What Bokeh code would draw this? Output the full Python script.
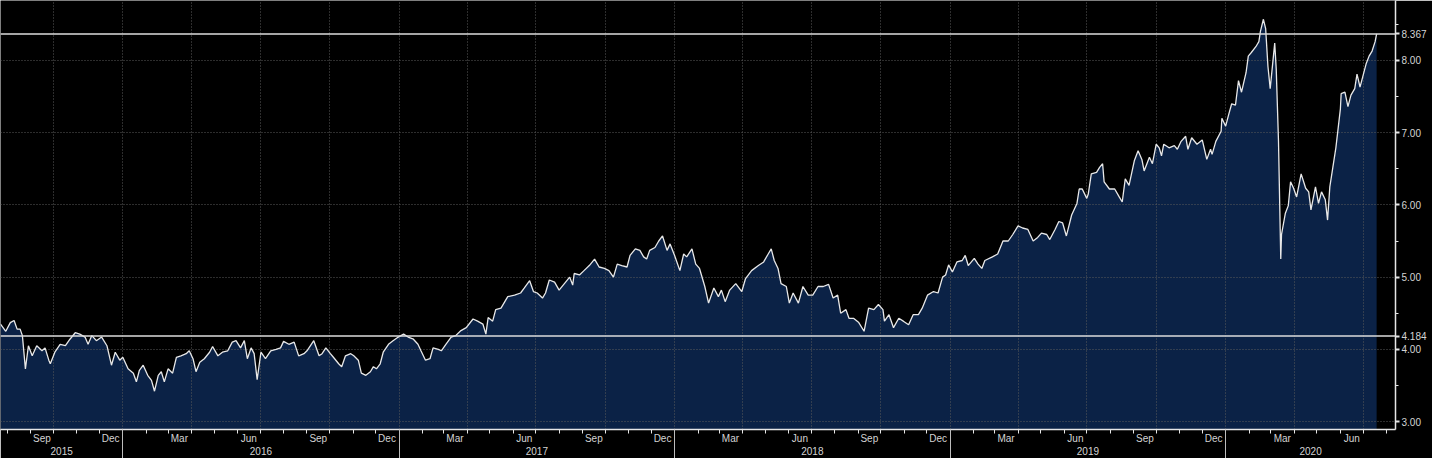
import pandas as pd
from bokeh.plotting import figure
from bokeh.models import (Range1d, FixedTicker, CustomJSTickFormatter, DatetimeAxis,
                          Span, ColumnDataSource)
from bokeh.embed import file_html
from bokeh.resources import INLINE

# ---------------- data ----------------
start_date = "2015-07-23"
end_date = "2020-08-13"
day_offset = [
    0, 7, 13, 18, 22, 26, 29, 33, 37, 42, 48, 55, 59, 64, 66, 72, 79, 86, 92, 99,
    105, 112, 116, 121, 127, 134, 141, 147, 152, 158, 162, 169, 176, 180, 184, 189, 195, 200, 204, 209,
    213, 217, 222, 228, 233, 239, 246, 250, 255, 259, 264, 270, 277, 281, 288, 294, 301, 307, 312, 318,
    323, 327, 332, 336, 340, 345, 351, 358, 365, 371, 375, 382, 389, 395, 402, 406, 415, 422, 426, 431,
    437, 441, 448, 452, 457, 464, 468, 474, 478, 484, 490, 494, 498, 503, 507, 514, 520, 527, 534, 540,
    547, 553, 557, 563, 569, 573, 580, 584, 590, 597, 603, 610, 617, 626, 632, 639, 643, 646, 652, 656,
    663, 672, 681, 689, 694, 701, 706, 711, 718, 722, 727, 734, 740, 747, 754, 758, 760, 767, 773, 780,
    787, 793, 800, 806, 812, 817, 823, 830, 834, 841, 847, 852, 856, 860, 867, 872, 877, 883, 887, 893,
    900, 905, 909, 916, 921, 926, 933, 938, 945, 951, 955, 960, 966, 974, 982, 987, 995, 1004, 1011, 1017,
    1021, 1025, 1030, 1034, 1041, 1045, 1050, 1057, 1063, 1070, 1076, 1083, 1090, 1097, 1103, 1109, 1113, 1120, 1124, 1130,
    1137, 1144, 1150, 1157, 1163, 1169, 1171, 1177, 1183, 1190, 1196, 1203, 1209, 1216, 1221, 1228, 1236, 1242, 1248, 1252,
    1256, 1261, 1267, 1274, 1278, 1282, 1290, 1295, 1300, 1304, 1314, 1321, 1328, 1335, 1341, 1348, 1354, 1361, 1368, 1374,
    1379, 1386, 1390, 1397, 1402, 1407, 1412, 1419, 1426, 1429, 1433, 1439, 1441, 1445, 1452, 1456, 1460, 1462, 1469, 1476,
    1482, 1486, 1490, 1495, 1502, 1507, 1512, 1515, 1522, 1526, 1531, 1535, 1538, 1541, 1548, 1555, 1559, 1564, 1570, 1573,
    1578, 1585, 1592, 1598, 1603, 1605, 1610, 1617, 1618, 1623, 1627, 1631, 1636, 1640, 1644, 1650, 1653, 1657, 1663, 1667,
    1669, 1673, 1676, 1679, 1682, 1688, 1690, 1693, 1696, 1697, 1702, 1706, 1709, 1713, 1717, 1723, 1729, 1733, 1736, 1742,
    1746, 1750, 1755, 1758, 1761, 1765, 1769, 1775, 1776, 1781, 1785, 1789, 1794, 1797, 1801, 1805, 1809, 1813, 1817, 1821,
    1823,
]
values = [
    4.35, 4.25, 4.37, 4.40, 4.28, 4.28, 4.19, 3.73, 4.05, 3.91, 4.05, 3.98, 4.02, 3.85, 3.80, 3.96, 4.07, 4.05, 4.14, 4.23,
    4.21, 4.17, 4.07, 4.19, 4.12, 4.17, 4.05, 3.78, 3.96, 3.85, 3.89, 3.73, 3.67, 3.55, 3.71, 3.78, 3.64, 3.57, 3.42, 3.64,
    3.69, 3.55, 3.73, 3.67, 3.89, 3.91, 3.94, 3.98, 3.87, 3.69, 3.82, 3.87, 3.96, 4.04, 3.91, 3.96, 3.98, 4.10, 4.12, 4.02,
    4.12, 3.87, 4.02, 3.94, 3.58, 3.96, 3.87, 3.98, 4.00, 4.02, 4.11, 4.07, 4.10, 3.91, 3.94, 3.98, 4.12, 3.91, 3.94, 4.02,
    3.94, 3.89, 3.80, 3.76, 3.91, 3.94, 3.91, 3.85, 3.67, 3.64, 3.69, 3.76, 3.73, 3.80, 3.96, 4.07, 4.12, 4.17, 4.21, 4.17,
    4.14, 4.07, 3.98, 3.85, 3.87, 4.02, 4.00, 3.98, 4.07, 4.17, 4.19, 4.26, 4.30, 4.42, 4.39, 4.35, 4.21, 4.44, 4.39, 4.55,
    4.57, 4.73, 4.75, 4.78, 4.85, 4.95, 4.80, 4.78, 4.71, 4.78, 4.96, 4.93, 4.82, 4.91, 5.00, 4.89, 5.05, 5.03, 5.09, 5.16,
    5.25, 5.14, 5.12, 5.09, 5.00, 5.18, 5.16, 5.14, 5.30, 5.39, 5.37, 5.28, 5.25, 5.37, 5.41, 5.50, 5.57, 5.37, 5.46, 5.30,
    5.09, 5.32, 5.28, 5.39, 5.18, 5.12, 4.87, 4.64, 4.85, 4.73, 4.82, 4.66, 4.82, 4.91, 4.80, 4.98, 5.09, 5.16, 5.21, 5.32,
    5.39, 5.23, 5.12, 4.91, 4.87, 4.64, 4.78, 4.64, 4.87, 4.75, 4.75, 4.87, 4.87, 4.90, 4.71, 4.75, 4.50, 4.55, 4.43, 4.43,
    4.37, 4.25, 4.57, 4.55, 4.62, 4.55, 4.39, 4.48, 4.30, 4.43, 4.39, 4.34, 4.48, 4.48, 4.57, 4.75, 4.80, 4.78, 5.00, 5.03,
    5.17, 5.07, 5.21, 5.23, 5.30, 5.16, 5.26, 5.18, 5.12, 5.23, 5.28, 5.32, 5.50, 5.50, 5.59, 5.71, 5.68, 5.66, 5.50, 5.55,
    5.61, 5.59, 5.52, 5.66, 5.77, 5.75, 5.57, 5.86, 6.02, 6.22, 6.22, 6.09, 6.15, 6.43, 6.45, 6.52, 6.57, 6.32, 6.22, 6.22,
    6.11, 6.04, 6.36, 6.27, 6.61, 6.75, 6.63, 6.47, 6.66, 6.57, 6.84, 6.79, 6.68, 6.84, 6.79, 6.82, 6.77, 6.88, 6.95, 6.77,
    6.93, 6.84, 6.90, 6.63, 6.77, 6.70, 6.88, 7.02, 7.20, 7.09, 7.25, 7.40, 7.38, 7.72, 7.56, 7.83, 8.06, 8.11, 8.19, 8.26,
    8.40, 8.57, 8.44, 7.92, 7.61, 8.24, 7.88, 6.88, 5.25, 5.59, 5.88, 5.99, 6.32, 6.23, 6.11, 6.43, 6.23, 6.18, 5.93, 6.25,
    6.02, 6.18, 6.07, 5.79, 6.25, 6.52, 6.79, 7.33, 7.54, 7.56, 7.36, 7.52, 7.61, 7.81, 7.63, 7.79, 7.95, 8.06, 8.13, 8.26,
    8.367,
]
last_value = 8.367
reference_value = 4.184
y_ticks = [3.0, 4.0, 5.0, 6.0, 7.0, 8.0]
y_minor_ticks = [3.5, 4.5, 5.5, 6.5, 7.5, 8.5]
y_min, y_max = 2.89, 8.83
month_names = ["Jan", "Feb", "Mar", "Apr", "May", "Jun",
               "Jul", "Aug", "Sep", "Oct", "Nov", "Dec"]

# ---------------- derived ----------------
def ms(ts):
    return pd.Timestamp(ts).timestamp() * 1000.0

t0 = pd.Timestamp(start_date)
dates = [t0 + pd.Timedelta(days=d) for d in day_offset]
src = ColumnDataSource(dict(date=dates, value=values))

x_start, x_end = ms(start_date), ms(end_date)
month_starts = pd.date_range("2015-08-01", end_date, freq="MS")
month_start_ms = [ms(m) for m in month_starts]
label_ms = [ms(m + pd.Timedelta(days=15)) for m in month_starts if m.month in (3, 6, 9, 12)]
quarter_ms = [ms(m) for m in month_starts if m.month in (1, 4, 7, 10)]
jan_ms = [ms(m) for m in month_starts if m.month == 1]
year_centers = []
for yr in range(2015, 2021):
    lo = max(ms(f"{yr}-01-01"), x_start)
    hi = min(ms(f"{yr + 1}-01-01"), x_end)
    year_centers.append((lo + hi) / 2.0)

FONT = "Liberation Sans"
TXT = "#d4d4d4"
AXC = "#e6e6e6"
GRID = "#5a5a5a"

p = figure(width=1432, height=458, x_axis_type="datetime",
           x_range=Range1d(x_start, x_end), y_range=Range1d(y_min, y_max),
           y_axis_location="right", output_backend="svg", toolbar_location=None,
           min_border_left=0, min_border_top=0, min_border_right=37, min_border_bottom=29,
           background_fill_color="#000000", border_fill_color="#000000",
           outline_line_color=None)

p.varea(x="date", y1=y_min, y2="value", source=src, fill_color="#0b2246", level="image")
p.line(x="date", y="value", source=src, line_color="#e8e8e8", line_width=1.3)

for v in (last_value, reference_value):
    p.add_layout(Span(location=v, dimension="width", line_color="#dcdcdc", line_width=1.6))

# grids
p.xgrid.ticker = FixedTicker(ticks=quarter_ms)
p.ygrid.ticker = FixedTicker(ticks=y_ticks)
for g in (p.xgrid[0], p.ygrid[0]):
    g.grid_line_color = GRID
    g.grid_line_dash = "1 2"
    g.grid_line_width = 1

# month axis
ax = p.xaxis[0]
ax.ticker = FixedTicker(ticks=label_ms, minor_ticks=month_start_ms)
ax.formatter = CustomJSTickFormatter(
    args=dict(names=month_names),
    code="return names[new Date(tick).getUTCMonth()];")
ax.axis_line_color = AXC
ax.axis_line_width = 1.5
ax.major_tick_line_color = None
ax.major_tick_in = 0
ax.major_tick_out = 0
ax.minor_tick_line_color = AXC
ax.minor_tick_in = 0
ax.minor_tick_out = 4
ax.major_label_standoff = -1
ax.major_label_text_font = FONT
ax.major_label_text_font_size = "10px"
ax.major_label_text_color = TXT

# year axis (labels + year separators drawn as its minor ticks)
yax = DatetimeAxis(ticker=FixedTicker(ticks=year_centers, minor_ticks=jan_ms),
                   formatter=CustomJSTickFormatter(code="return String(new Date(tick).getUTCFullYear());"))
yax.axis_line_color = None
yax.major_tick_line_color = None
yax.major_tick_in = 0
yax.major_tick_out = 0
yax.minor_tick_line_color = "#bdbdbd"
yax.minor_tick_in = 17
yax.minor_tick_out = 12
yax.major_label_standoff = -12
yax.major_label_text_font = FONT
yax.major_label_text_font_size = "10px"
yax.major_label_text_color = TXT
p.add_layout(yax, "below")

# right value axis (grid values plus the two tagged levels)
tags = [reference_value, last_value]
ra = p.yaxis[0]
ra.ticker = FixedTicker(ticks=y_ticks + tags, minor_ticks=y_minor_ticks)
ra.formatter = CustomJSTickFormatter(
    args=dict(tags=tags),
    code="for (const t of tags) { if (Math.abs(tick - t) < 1e-9) return tick.toFixed(3); } return tick.toFixed(2);")
ra.axis_line_color = AXC
ra.axis_line_width = 1.5
ra.major_tick_line_color = AXC
ra.major_tick_line_width = 2
ra.major_tick_in = 0
ra.major_tick_out = 4
ra.minor_tick_line_color = AXC
ra.minor_tick_in = 0
ra.minor_tick_out = 3
ra.major_label_standoff = 2
ra.major_label_text_font = FONT
ra.major_label_text_font_size = "10px"
ra.major_label_text_color = TXT

open("out.html", "w").write(file_html(p, INLINE))
